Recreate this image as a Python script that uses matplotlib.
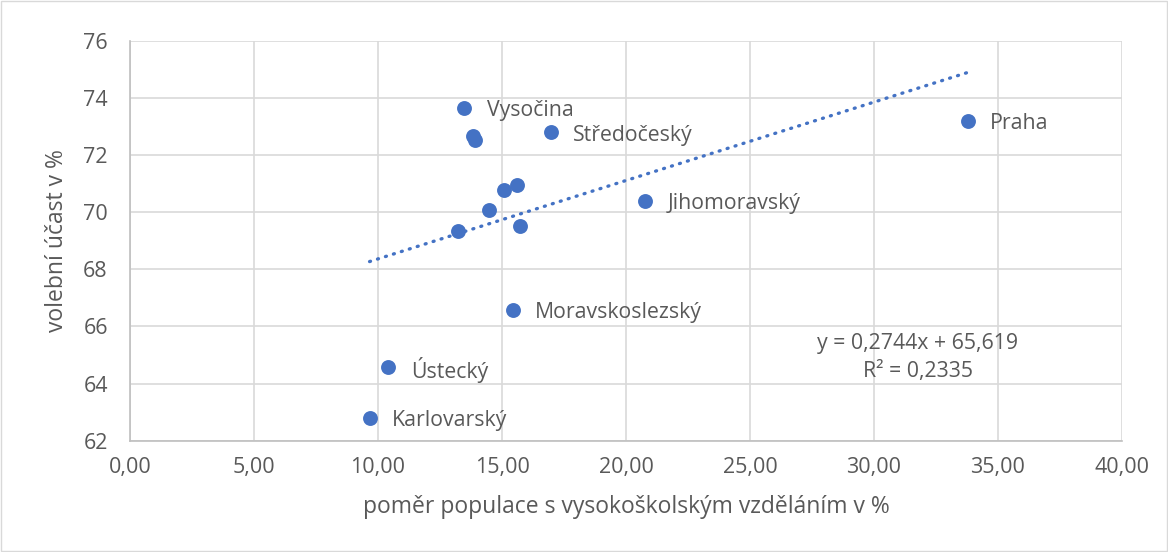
import matplotlib.pyplot as plt
import numpy as np

# podil VS vzdelani (%) vs. volebni ucast (%)
kraje = ['Vysočina', '', '', 'Středočeský', '', '', '', '', '',
         'Moravskoslezský', 'Ústecký', 'Karlovarský', 'Jihomoravský', 'Praha']
vzdelani = [13.48, 13.84, 13.91, 16.96, 15.08, 15.60, 14.46, 13.23, 15.71,
            15.44, 10.42, 9.66, 20.78, 33.78]
ucast = [73.65, 72.66, 72.52, 72.79, 70.78, 70.94, 70.06, 69.35, 69.52,
         66.58, 64.57, 62.79, 70.39, 73.19]
slope = 0.2744
intercept = 65.619
r2 = 0.2335

blue = '#4472C4'
gray_txt = '#595959'
plt.rcParams['font.family'] = ['Open Sans', 'DejaVu Sans']

fig = plt.figure(figsize=(11.68, 5.52), dpi=100)
ax = fig.add_axes([0.1113, 0.2016, 0.8493, 0.7247])

xs = np.array([min(vzdelani), max(vzdelani)])
ax.plot(xs, slope * xs + intercept, color=blue, lw=2.4,
        linestyle=(0, (0.3, 2.2)), dash_capstyle='round', zorder=2)
ax.scatter(vzdelani, ucast, s=115, color=blue, zorder=3, linewidths=0)

for name, x, y in zip(kraje, vzdelani, ucast):
    if name:
        ax.annotate(name, (x, y), xytext=(16, -2), textcoords='offset points',
                    va='center', ha='left', fontsize=15.3, color=gray_txt)

ax.text(0.794, 0.243, f'y = {slope:.4f}x + {intercept:.3f}'.replace('.', ','),
        transform=ax.transAxes, ha='center', va='center', fontsize=15.3, color=gray_txt)
ax.text(0.794, 0.174, f'R² = {r2:.4f}'.replace('.', ','),
        transform=ax.transAxes, ha='center', va='center', fontsize=15.3, color=gray_txt)

ax.set_xlim(0, 40)
ax.set_ylim(62, 76)
ax.set_xticks(np.arange(0, 41, 5))
ax.set_xticklabels([f'{v:.2f}'.replace('.', ',') for v in np.arange(0, 41, 5)])
ax.set_yticks(np.arange(62, 77, 2))
ax.grid(True, color='#D9D9D9', lw=1.2)
ax.set_axisbelow(True)
ax.tick_params(length=0, labelsize=15.5, colors=gray_txt)
ax.tick_params(axis='x', pad=12)
ax.tick_params(axis='y', pad=16)
for s in ['top', 'right']:
    ax.spines[s].set_visible(False)
for s in ['left', 'bottom']:
    ax.spines[s].set_color('#BFBFBF')
    ax.spines[s].set_linewidth(1.2)

ax.set_xlabel('poměr populace s vysokoškolským vzděláním v %', fontsize=16.5,
              color=gray_txt, labelpad=12)
ax.set_ylabel('volební účast v %', fontsize=16.5, color=gray_txt, labelpad=10)

fig.patches.append(plt.Rectangle((0.001, 0.001), 0.998, 0.997, transform=fig.transFigure,
                                 fill=False, edgecolor='#D9D9D9', lw=1))
fig.savefig('out.png', dpi=100)
